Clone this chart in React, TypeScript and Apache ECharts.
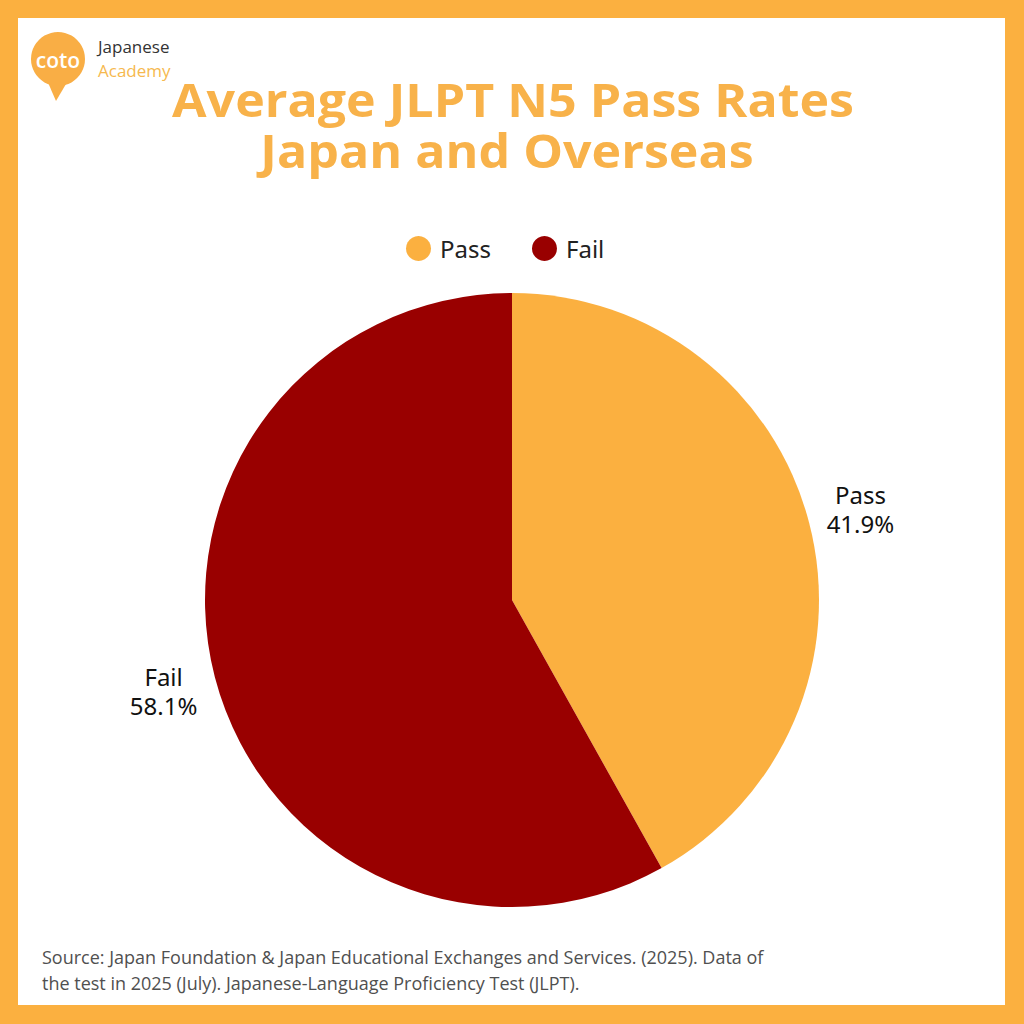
import React, { useEffect, useRef } from "react";
import * as echarts from "echarts";

const categories = ["Pass", "Fail"];
const values = [41.9, 58.1];
const colors = ["#FBB040", "#990000"];
const titleLines = ["Average JLPT N5 Pass Rates", "Japan and Overseas"];
const sourceLines = [
  "Source: Japan Foundation & Japan Educational Exchanges and Services. (2025). Data of",
  "the test in 2025 (July). Japanese-Language Proficiency Test (JLPT).",
];

export default function App() {
  const ref = useRef<HTMLDivElement>(null);
  useEffect(() => {
    if (!ref.current) return;
    const chart = echarts.init(ref.current, null, { renderer: "svg" });
    const data = categories.map((name, i) => ({
      name,
      value: values[i],
      itemStyle: { color: colors[i] },
    }));
    const ghost = categories.map((name, i) => ({ name, value: values[i] }));
    chart.setOption({
      animation: false,
      backgroundColor: "#FBB040",
      graphic: [
        { type: "rect", z: -10, shape: { x: 18, y: 18, width: 987, height: 987 }, style: { fill: "#ffffff" } },
        // logo
        { type: "polygon", z: 1, shape: { points: [[46, 78], [66, 84], [56, 101]] }, style: { fill: "#F9AE45" } },
        { type: "circle", z: 1, shape: { cx: 58, cy: 59, r: 27 }, style: { fill: "#F9AE45" } },
        {
          type: "text", z: 2, x: 58, y: 60,
          style: { text: "coto", fill: "#ffffff", font: "600 21px 'Open Sans', sans-serif", align: "center", verticalAlign: "middle" },
        },
        {
          type: "text", z: 2, x: 98, y: 46,
          style: { text: "Japanese", fill: "#333333", font: "17px 'Open Sans', sans-serif", verticalAlign: "middle" },
        },
        {
          type: "text", z: 2, x: 98, y: 70,
          style: { text: "Academy", fill: "#F6B94F", font: "17px 'Open Sans', sans-serif", verticalAlign: "middle" },
        },
        // title
        {
          type: "text", z: 2, x: 513, y: 99, scaleX: 1.09,
          style: { text: titleLines[0], fill: "#F8B24A", font: "bold 46px 'Open Sans', sans-serif", align: "center", verticalAlign: "middle" },
        },
        {
          type: "text", z: 2, x: 507, y: 150, scaleX: 1.09,
          style: { text: titleLines[1], fill: "#F8B24A", font: "bold 46px 'Open Sans', sans-serif", align: "center", verticalAlign: "middle" },
        },
        // source
        {
          type: "text", z: 2, x: 42, y: 957,
          style: { text: sourceLines[0], fill: "#505050", font: "18px 'Open Sans', sans-serif", verticalAlign: "middle" },
        },
        {
          type: "text", z: 2, x: 42, y: 983,
          style: { text: sourceLines[1], fill: "#505050", font: "18px 'Open Sans', sans-serif", verticalAlign: "middle" },
        },
      ],
      legend: {
        data: categories,
        top: 236,
        left: 406,
        padding: 0,
        icon: "circle",
        itemWidth: 25,
        itemHeight: 25,
        itemGap: 41,
        textStyle: { fontSize: 24, color: "#222222", fontFamily: "'Noto Sans', sans-serif", padding: [0, 0, 0, 4] },
      },
      series: [
        {
          type: "pie",
          center: [512, 600],
          radius: [0, 307],
          startAngle: 90,
          clockwise: true,
          label: { show: false },
          labelLine: { show: false },
          emphasis: { disabled: true },
          data,
        },
        {
          type: "pie",
          center: [512, 600],
          radius: [307, 407],
          startAngle: 90,
          clockwise: true,
          silent: true,
          itemStyle: { color: "rgba(0,0,0,0)" },
          label: {
            show: true,
            position: "inside",
            formatter: (p: any) => `${p.name}\n${p.value}%`,
            fontSize: 24,
            lineHeight: 29,
            color: "#111111",
            fontFamily: "'Noto Sans', sans-serif",
            align: "center",
          },
          labelLine: { show: false },
          emphasis: { disabled: true },
          data: ghost,
        },
      ],
    });
    return () => chart.dispose();
  }, []);
  return (
    <div
      ref={ref}
      style={{ position: "absolute", left: 0, top: 0, width: 1024, height: 1024 }}
    />
  );
}
